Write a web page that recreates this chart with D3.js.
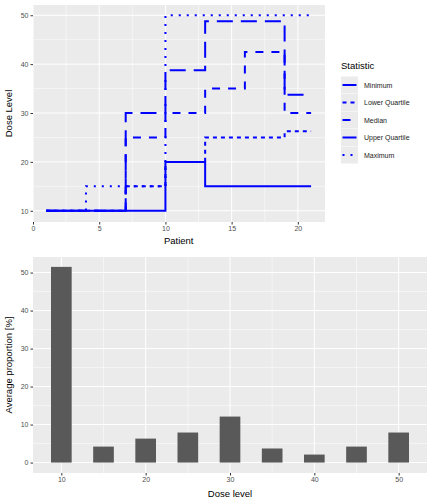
<!DOCTYPE html>
<html><head><meta charset="utf-8">
<script src="https://cdn.jsdelivr.net/npm/d3@7"></script>
<style>body{margin:0;background:#fff}text{font-family:"Liberation Sans",Arial,sans-serif}</style>
</head><body><svg id="c" width="432" height="504"></svg>
<script>
// top panel: dose level per patient
const patients = d3.range(1, 22);
const minimum = [10,10,10,10,10,10,10,10,10,20,20,20,15,15,15,15,15,15,15,15,15];
const lowerQ  = [10,10,10,10,10,10,15,15,15,20,20,20,25,25,25,25,25,25,26.25,26.25,26.25];
const median  = [10,10,10,10,10,10,25,25,25,30,30,30,35,35,35,42.5,42.5,42.5,30,30,30];
const upperQ  = [10,10,10,10,10,10,30,30,30,38.75,38.75,38.75,48.75,48.75,48.75,48.75,48.75,48.75,33.75,33.75,33.75];
const maximum = [10,10,10,15,15,15,15,15,15,50,50,50,50,50,50,50,50,50,50,50,50];
const statNames = ["Minimum","Lower Quartile","Median","Upper Quartile","Maximum"];
const statDash = ["none","4,4","8,8","16,8","2,6"];
const xTicksTop = [0,5,10,15,20];
const yTicksTop = [10,20,30,40,50];

// bottom panel: proportion per dose level
const doses = [10,15,20,25,30,35,40,45,50];
const proportion = [51.5,4.2,6.3,7.9,12.1,3.7,2.1,4.2,7.9];
const xTicksBot = [10,20,30,40,50];
const yTicksBot = [0,10,20,30,40,50];

const svg = d3.select("#c");

function panel(x, y, xt, yt, xMinor, yMinor) {
  const g = svg.append("g");
  const [x0, x1] = x.range(), [y0, y1] = y.range();
  g.append("rect").attr("x", x0).attr("y", y1).attr("width", x1 - x0).attr("height", y0 - y1).attr("fill", "#ebebeb");
  xMinor.forEach(v => g.append("line").attr("x1", x(v)).attr("x2", x(v)).attr("y1", y0).attr("y2", y1).attr("stroke", "#fff").attr("stroke-width", 0.5));
  yMinor.forEach(v => g.append("line").attr("y1", y(v)).attr("y2", y(v)).attr("x1", x0).attr("x2", x1).attr("stroke", "#fff").attr("stroke-width", 0.5));
  xt.forEach(v => g.append("line").attr("x1", x(v)).attr("x2", x(v)).attr("y1", y0).attr("y2", y1).attr("stroke", "#fff").attr("stroke-width", 1));
  yt.forEach(v => g.append("line").attr("y1", y(v)).attr("y2", y(v)).attr("x1", x0).attr("x2", x1).attr("stroke", "#fff").attr("stroke-width", 1));
  const ax = g.append("g").attr("transform", `translate(0,${y0})`).call(d3.axisBottom(x).tickValues(xt).tickSize(2.5).tickPadding(2));
  const ay = g.append("g").attr("transform", `translate(${x0},0)`).call(d3.axisLeft(y).tickValues(yt).tickSize(2.5).tickPadding(2));
  [ax, ay].forEach(a => {
    a.select(".domain").remove();
    a.selectAll("line").attr("stroke", "#333");
    a.selectAll("text").attr("fill", "#4d4d4d").style("font-size", "7px");
  });
  return g;
}

// top
const xT = d3.scaleLinear().domain([0, 22.05]).range([33, 325]);
const yT = d3.scaleLinear().domain([7.7, 52.1]).range([222, 5]);
const gT = panel(xT, yT, xTicksTop, yTicksTop, [2.5,7.5,12.5,17.5], [15,25,35,45]);
const series = [minimum, lowerQ, median, upperQ, maximum];
const line = d3.line().x(d => xT(d[0])).y(d => yT(d[1])).curve(d3.curveStepAfter);
series.forEach((s, i) => {
  gT.append("path").datum(patients.map((p, j) => [p, s[j]]))
    .attr("d", line).attr("fill", "none").attr("stroke", "#0000ff")
    .attr("stroke-width", 2).attr("stroke-dasharray", statDash[i]);
});
svg.append("text").attr("x", xT(11)).attr("y", 244).attr("text-anchor", "middle").style("font-size", "9.5px").text("Patient");
svg.append("text").attr("transform", `translate(12,${(5+222)/2}) rotate(-90)`).attr("text-anchor", "middle").style("font-size", "9.5px").text("Dose Level");

// legend
svg.append("text").attr("x", 341).attr("y", 69).style("font-size", "9.5px").text("Statistic");
statNames.forEach((n, i) => {
  const cy = 85 + i * 17.5;
  svg.append("rect").attr("x", 341).attr("y", cy - 8.5).attr("width", 17).attr("height", 17).attr("fill", "#ebebeb");
  svg.append("line").attr("x1", 342.5).attr("x2", 356.5).attr("y1", cy).attr("y2", cy)
    .attr("stroke", "#0000ff").attr("stroke-width", 2).attr("stroke-dasharray", statDash[i]);
  svg.append("text").attr("x", 364).attr("y", cy + 2.5).style("font-size", "7px").attr("fill", "#1a1a1a").text(n);
});

// bottom
const xB = d3.scaleLinear().domain([6.64, 53.36]).range([33, 427]);
const yB = d3.scaleLinear().domain([-2.75, 54.1]).range([473, 257]);
const gB = panel(xB, yB, xTicksBot, yTicksBot, [15,25,35,45], [5,15,25,35,45]);
gB.selectAll(".bar").data(doses).enter().append("rect")
  .attr("x", d => xB(d - 1.225)).attr("width", xB(2.45) - xB(0))
  .attr("y", (d, i) => yB(proportion[i])).attr("height", (d, i) => yB(0) - yB(proportion[i]))
  .attr("fill", "#595959");
svg.append("text").attr("x", 230).attr("y", 497).attr("text-anchor", "middle").style("font-size", "9.5px").text("Dose level");
svg.append("text").attr("transform", `translate(12,${(257+473)/2}) rotate(-90)`).attr("text-anchor", "middle").style("font-size", "9.5px").text("Average proportion [%]");
</script></body></html>
